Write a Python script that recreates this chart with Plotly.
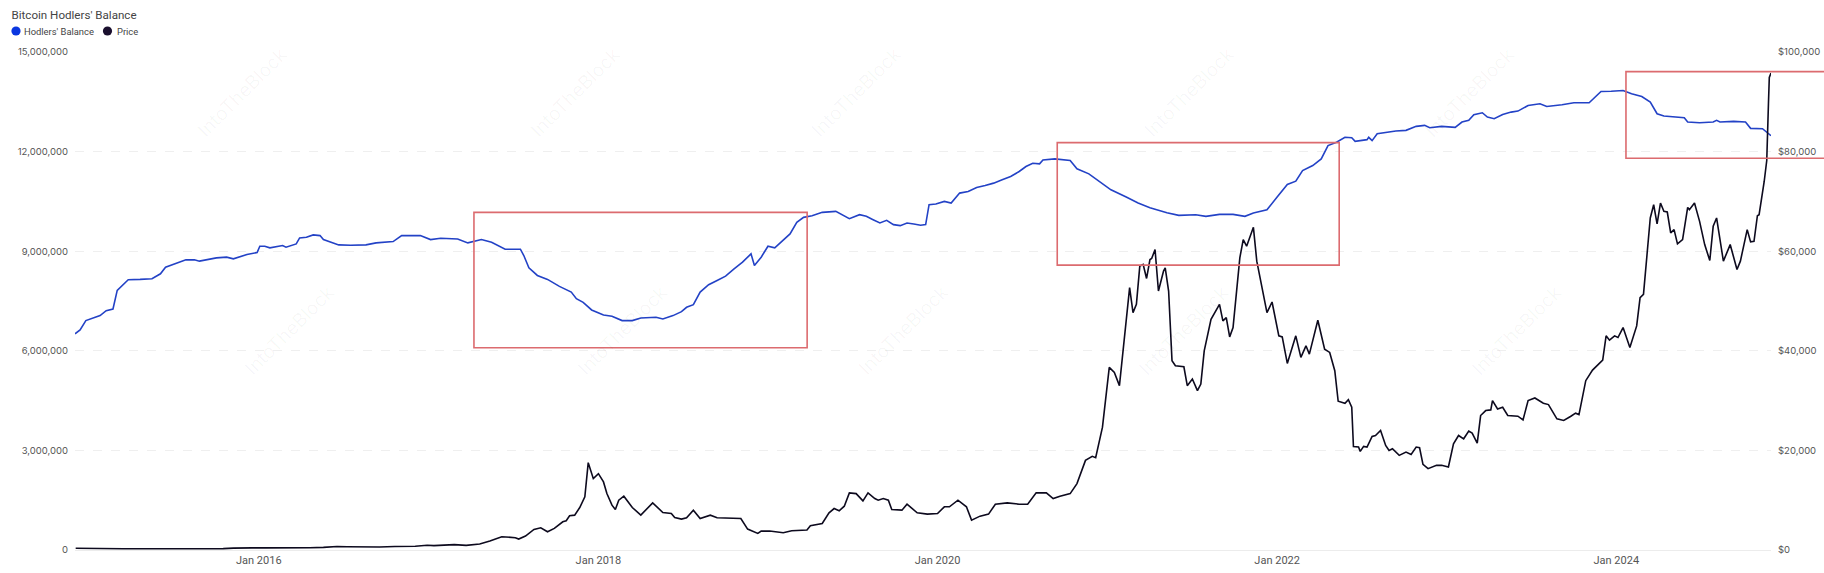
import pandas as pd
import plotly.graph_objects as go

# ---- Data (dates as decimal years) ----
balance_years = [
    2014.916, 2014.946, 2014.98, 2015.064, 2015.10, 2015.14, 2015.165, 2015.23, 2015.30, 2015.37,
    2015.42, 2015.45, 2015.57, 2015.62, 2015.65, 2015.75, 2015.81, 2015.85, 2015.93, 2015.99,
    2016.006, 2016.035, 2016.065, 2016.14, 2016.16, 2016.22, 2016.24, 2016.28, 2016.32, 2016.36,
    2016.38, 2016.43, 2016.47, 2016.54, 2016.63, 2016.69, 2016.79, 2016.84, 2016.89, 2016.95,
    2017.01, 2017.07, 2017.17, 2017.23, 2017.31, 2017.37, 2017.45, 2017.54, 2017.56, 2017.59,
    2017.64, 2017.70, 2017.77, 2017.84, 2017.87, 2017.91, 2017.96, 2018.03, 2018.08, 2018.14,
    2018.20, 2018.25, 2018.34, 2018.38, 2018.44, 2018.49, 2018.52, 2018.56, 2018.60, 2018.65,
    2018.70, 2018.75, 2018.80, 2018.85, 2018.90, 2018.92, 2018.96, 2019.00, 2019.04, 2019.08,
    2019.13, 2019.17, 2019.21, 2019.26, 2019.32, 2019.40, 2019.44, 2019.48, 2019.54, 2019.58,
    2019.62, 2019.66, 2019.70, 2019.74, 2019.78, 2019.82, 2019.86, 2019.90, 2019.93, 2019.95,
    2019.99, 2020.04, 2020.08, 2020.13, 2020.18, 2020.23, 2020.28, 2020.33, 2020.38, 2020.43,
    2020.48, 2020.52, 2020.56, 2020.60, 2020.62, 2020.69, 2020.78, 2020.82, 2020.89, 2020.97,
    2021.02, 2021.11, 2021.18, 2021.25, 2021.35, 2021.42, 2021.52, 2021.58, 2021.66, 2021.74,
    2021.81, 2021.86, 2021.94, 2022.00, 2022.06, 2022.11, 2022.15, 2022.21, 2022.26, 2022.30,
    2022.35, 2022.40, 2022.44, 2022.46, 2022.53, 2022.54, 2022.56, 2022.59, 2022.64, 2022.70,
    2022.76, 2022.79, 2022.82, 2022.87, 2022.90, 2022.97, 2023.05, 2023.09, 2023.13, 2023.16,
    2023.21, 2023.24, 2023.28, 2023.33, 2023.38, 2023.42, 2023.48, 2023.55, 2023.59, 2023.68,
    2023.75, 2023.84, 2023.91, 2023.97, 2024.04, 2024.09, 2024.15, 2024.20, 2024.24, 2024.28,
    2024.40, 2024.42, 2024.49, 2024.57, 2024.59, 2024.61, 2024.69, 2024.76, 2024.79, 2024.86,
    2024.91,
]
balance_values = [
    6.51, 6.63, 6.91, 7.06, 7.21, 7.26, 7.82, 8.14, 8.15, 8.17,
    8.32, 8.52, 8.74, 8.74, 8.70, 8.80, 8.82, 8.77, 8.90, 8.96,
    9.15, 9.15, 9.10, 9.17, 9.12, 9.22, 9.40, 9.42, 9.49, 9.47,
    9.35, 9.27, 9.19, 9.18, 9.19, 9.25, 9.29, 9.47, 9.47, 9.47,
    9.35, 9.39, 9.37, 9.25, 9.35, 9.27, 9.06, 9.06, 8.87, 8.50,
    8.27, 8.15, 7.94, 7.77, 7.57, 7.46, 7.23, 7.08, 7.04, 6.91,
    6.91, 6.99, 7.01, 6.96, 7.06, 7.18, 7.31, 7.39, 7.77, 7.99,
    8.12, 8.25, 8.47, 8.67, 8.92, 8.57, 8.82, 9.15, 9.10, 9.29,
    9.52, 9.87, 10.02, 10.07, 10.17, 10.20, 10.10, 9.98, 10.10, 10.05,
    9.95, 9.85, 9.93, 9.80, 9.77, 9.85, 9.82, 9.78, 9.80, 10.40,
    10.42, 10.50, 10.45, 10.75, 10.80, 10.92, 10.98, 11.05, 11.15, 11.25,
    11.40, 11.55, 11.65, 11.63, 11.75, 11.78, 11.73, 11.48, 11.33, 11.03,
    10.85, 10.63, 10.45, 10.31, 10.16, 10.08, 10.10, 10.05, 10.11, 10.11,
    10.05, 10.15, 10.25, 10.63, 11.01, 11.11, 11.43, 11.58, 11.78, 12.18,
    12.28, 12.43, 12.42, 12.31, 12.36, 12.43, 12.33, 12.54, 12.58, 12.62,
    12.64, 12.69, 12.76, 12.79, 12.72, 12.76, 12.73, 12.89, 12.94, 13.11,
    13.17, 13.04, 12.99, 13.12, 13.19, 13.22, 13.39, 13.44, 13.36, 13.41,
    13.47, 13.47, 13.81, 13.82, 13.84, 13.74, 13.66, 13.49, 13.14, 13.07,
    13.02, 12.89, 12.87, 12.89, 12.94, 12.89, 12.91, 12.89, 12.70, 12.69,
    12.48,
]  # millions of BTC

price_years = [
    2014.92, 2014.96, 2015.02, 2015.06, 2015.12, 2015.20, 2015.28, 2015.36, 2015.45, 2015.53,
    2015.62, 2015.70, 2015.79, 2015.85, 2015.90, 2015.96, 2016.04, 2016.12, 2016.20, 2016.30,
    2016.38, 2016.46, 2016.52, 2016.60, 2016.71, 2016.80, 2016.88, 2016.92, 2016.99, 2017.03,
    2017.15, 2017.22, 2017.30, 2017.36, 2017.43, 2017.51, 2017.53, 2017.57, 2017.62, 2017.66,
    2017.70, 2017.74, 2017.79, 2017.81, 2017.83, 2017.86, 2017.89, 2017.92, 2017.94, 2017.97,
    2018.00, 2018.03, 2018.05, 2018.08, 2018.10, 2018.12, 2018.15, 2018.20, 2018.25, 2018.32,
    2018.38, 2018.43, 2018.45, 2018.49, 2018.52, 2018.56, 2018.60, 2018.66, 2018.70, 2018.84,
    2018.88, 2018.94, 2018.96, 2019.01, 2019.09, 2019.14, 2019.23, 2019.25, 2019.32, 2019.36,
    2019.39, 2019.42, 2019.45, 2019.48, 2019.52, 2019.56, 2019.59, 2019.63, 2019.65, 2019.68,
    2019.71, 2019.73, 2019.79, 2019.82, 2019.88, 2019.94, 2020.00, 2020.04, 2020.07, 2020.12,
    2020.17, 2020.20, 2020.25, 2020.30, 2020.34, 2020.41, 2020.48, 2020.53, 2020.58, 2020.64,
    2020.68, 2020.72, 2020.78, 2020.82, 2020.87, 2020.91, 2020.93, 2020.97, 2021.01, 2021.04,
    2021.07, 2021.09, 2021.13, 2021.15, 2021.17, 2021.19, 2021.21, 2021.23, 2021.25, 2021.26,
    2021.28, 2021.30, 2021.33, 2021.34, 2021.36, 2021.38, 2021.40, 2021.45, 2021.47, 2021.50,
    2021.53, 2021.55, 2021.57, 2021.61, 2021.66, 2021.68, 2021.70, 2021.72, 2021.74, 2021.78,
    2021.80, 2021.82, 2021.86, 2021.88, 2021.91, 2021.94, 2021.97, 2022.01, 2022.03, 2022.06,
    2022.11, 2022.14, 2022.17, 2022.19, 2022.24, 2022.28, 2022.31, 2022.34, 2022.36, 2022.40,
    2022.42, 2022.44, 2022.45, 2022.48, 2022.49, 2022.51, 2022.53, 2022.56, 2022.58, 2022.61,
    2022.64, 2022.66, 2022.68, 2022.72, 2022.76, 2022.79, 2022.82, 2022.84, 2022.86, 2022.89,
    2022.94, 2022.97, 2023.01, 2023.04, 2023.07, 2023.10, 2023.13, 2023.15, 2023.18, 2023.20,
    2023.23, 2023.26, 2023.27, 2023.30, 2023.33, 2023.36, 2023.42, 2023.45, 2023.48, 2023.52,
    2023.57, 2023.60, 2023.65, 2023.69, 2023.73, 2023.76, 2023.78, 2023.82, 2023.86, 2023.92,
    2023.94, 2023.96, 2023.99, 2024.01, 2024.04, 2024.08, 2024.12, 2024.14, 2024.16, 2024.20,
    2024.22, 2024.24, 2024.26, 2024.28, 2024.30, 2024.32, 2024.34, 2024.36, 2024.39, 2024.42,
    2024.43, 2024.46, 2024.49, 2024.52, 2024.55, 2024.57, 2024.59, 2024.63, 2024.67, 2024.71,
    2024.73, 2024.77, 2024.79, 2024.81, 2024.83, 2024.84, 2024.87, 2024.885, 2024.895, 2024.90,
    2024.91,
]
price_values = [
    360, 330, 270, 220, 240, 260, 240, 235, 240, 285,
    230, 235, 280, 380, 340, 430, 420, 400, 415, 440,
    530, 700, 660, 580, 600, 700, 740, 760, 950, 870,
    1070, 930, 1200, 1800, 2670, 2470, 2200, 2800, 4130, 4470,
    3670, 4330, 5670, 5870, 6870, 7000, 8530, 10670, 17530, 14330,
    15330, 13670, 11330, 9000, 8130, 10000, 10800, 8530, 7000, 9470,
    7530, 7330, 6530, 6200, 6470, 8000, 6330, 7000, 6470, 6330,
    4200, 3330, 3800, 3800, 3470, 3870, 4000, 4870, 5330, 7470,
    8330, 7870, 8800, 11470, 11330, 9870, 11470, 10330, 10000, 10330,
    10000, 8130, 8000, 9200, 7470, 7200, 7330, 8670, 8670, 10000,
    8670, 6000, 6800, 7200, 9200, 9470, 9200, 9200, 11470, 11470,
    10330, 10800, 11330, 13330, 18000, 18800, 18530, 24670, 36670, 35670,
    33000, 40000, 52670, 47670, 49330, 57000, 57330, 54530, 58330, 58530,
    60330, 52000, 56000, 56670, 52000, 38000, 37000, 36800, 33000, 34330,
    32000, 33330, 40000, 46330, 49330, 46000, 46670, 42800, 44670, 58670,
    62330, 61000, 64800, 58000, 52670, 47670, 49800, 43000, 42800, 37470,
    43000, 38670, 41000, 39330, 46130, 40330, 39670, 36000, 29870, 29470,
    30200, 28670, 20800, 20670, 19800, 20800, 20670, 22800, 23000, 24000,
    21000, 20000, 20330, 19000, 19670, 19200, 20670, 20530, 17200, 16330,
    17000, 17000, 16670, 21330, 23000, 22330, 23870, 23470, 21470, 27000,
    28000, 28130, 30000, 28330, 28670, 27000, 26870, 26130, 30000, 30530,
    29470, 29200, 26330, 26000, 26800, 27470, 27200, 34000, 36130, 38130,
    43000, 42130, 43000, 42670, 44670, 40670, 45000, 50670, 51330, 66670,
    69330, 65470, 69670, 68000, 67870, 63670, 64330, 61470, 62330, 68800,
    68330, 69670, 66000, 61330, 58130, 65000, 66670, 58000, 61330, 56330,
    58000, 64330, 61870, 62000, 67130, 67330, 74000, 78200, 89600, 94900,
    95800,
]

# Highlight boxes: (start year, end year, low balance, high balance in millions)
box_starts = [2017.266, 2020.704, 2024.057]
box_ends = [2019.231, 2022.366, None]  # None: box runs off the right edge
box_lows = [6.09, 8.58, 11.80]
box_highs = [10.17, 12.27, 14.41]

x_tick_years = [2016, 2018, 2020, 2022, 2024]
left_ticks = [0, 3, 6, 9, 12, 15]
right_ticks = [0, 20000, 40000, 60000, 80000, 100000]

series_names = ["Hodlers' Balance", "Price"]
series_dot_colors = ["#0a36e0", "#1a0f2e"]

MILLION = 1_000_000


def to_date(y):
    yi = int(y)
    a = pd.Timestamp(yi, 1, 1)
    b = pd.Timestamp(yi + 1, 1, 1)
    return a + (b - a) * (y - yi)


bal_x = [to_date(v) for v in balance_years]
bal_y = [v * MILLION for v in balance_values]
pr_x = [to_date(v) for v in price_years]

x_start = to_date(balance_years[0])
x_end = to_date(balance_years[-1])

W, H = 1824, 573
ML, MR, MT, MB = 75, 53, 52, 23

BLUE = "#2342c6"
BLACK = "#0d0a1e"
RED = "#dc6b6f"
GRAY_TXT = "#555555"
FONT = "Inter, Roboto, sans-serif"
FONT_HEAD = "Roboto, Inter, sans-serif"

fig = go.Figure()
fig.add_trace(go.Scatter(x=bal_x, y=bal_y, mode="lines", name=series_names[0],
                         line=dict(color=BLUE, width=1.6), showlegend=False, yaxis="y"))
fig.add_trace(go.Scatter(x=pr_x, y=price_values, mode="lines", name=series_names[1],
                         line=dict(color=BLACK, width=1.6), showlegend=False, yaxis="y2"))

span = (x_end - x_start)
for s, e, lo, hi in zip(box_starts, box_ends, box_lows, box_highs):
    if e is None:
        fig.add_shape(type="rect", xref="paper", yref="paper",
                      x0=(to_date(s) - x_start) / span, x1=1.2,
                      y0=lo / 15, y1=hi / 15,
                      line=dict(color=RED, width=1.6), fillcolor="rgba(0,0,0,0)")
    else:
        fig.add_shape(type="rect", xref="x", yref="y",
                      x0=to_date(s), x1=to_date(e), y0=lo * MILLION, y1=hi * MILLION,
                      line=dict(color=RED, width=1.6), fillcolor="rgba(0,0,0,0)")

# Legend drawn as dots + labels (pixel offsets from the plot's top-left corner)
legend_dot_px = [16, 107.5]
legend_text_px = [23, 116]
legend_y_px = 31
for name, col, dx, tx in zip(series_names, series_dot_colors, legend_dot_px, legend_text_px):
    fig.add_shape(type="circle", xref="paper", yref="paper",
                  xsizemode="pixel", ysizemode="pixel", xanchor=0, yanchor=1,
                  x0=dx - ML - 4.6, x1=dx - ML + 4.6,
                  y0=(MT - legend_y_px) - 4.6, y1=(MT - legend_y_px) + 4.6,
                  fillcolor=col, line=dict(width=0))
    fig.add_annotation(xref="paper", yref="paper", x=0, y=1,
                       xshift=tx - ML, yshift=MT - legend_y_px,
                       xanchor="left", yanchor="middle", showarrow=False,
                       text=name, borderpad=0,
                       font=dict(family=FONT_HEAD, size=9.4, color="#444444"))

# faint watermarks
wm_x = [190, 523, 856, 1189, 1522, 237, 570, 903, 1236, 1569]
wm_y = [40, 40, 40, 40, 40, 330, 330, 330, 330, 330]
for wx, wy in zip(wm_x, wm_y):
    fig.add_annotation(xref="paper", yref="paper", x=(wx - ML) / (W - ML - MR),
                       y=1 - (wy - MT) / (H - MT - MB), showarrow=False,
                       text="IntoTheBlock", textangle=-45,
                       font=dict(family=FONT, size=19, color="rgba(0,0,0,0.035)"))

fig.update_layout(
    width=W, height=H,
    margin=dict(l=ML, r=MR, t=MT, b=MB, autoexpand=False),
    paper_bgcolor="white", plot_bgcolor="white",
    font=dict(family=FONT, size=9.5, color=GRAY_TXT),
    title=dict(text="Bitcoin Hodlers' Balance", xref="container", yref="container",
               x=11.5 / W, y=1 - 14.5 / H, xanchor="left", yanchor="middle",
               font=dict(family=FONT_HEAD, size=11.6, color="#444444")),
    showlegend=False,
    hovermode=False,
    xaxis=dict(type="date", range=[x_start, x_end],
               tickvals=[pd.Timestamp(y, 1, 1) for y in x_tick_years],
               ticktext=[f"Jan {y}" for y in x_tick_years],
               showgrid=False, zeroline=False, showline=True, linecolor="#ececec",
               ticks="", tickfont=dict(family="Liberation Sans Narrow, Roboto, sans-serif",
                                       size=11, color=GRAY_TXT),
               automargin=False),
    yaxis=dict(range=[0, 15 * MILLION], tickvals=[t * MILLION for t in left_ticks],
               ticktext=[f"{t * MILLION:,}" for t in left_ticks],
               showgrid=True, gridcolor="#efefef", griddash="dash", zeroline=False,
               ticks="", ticklabelstandoff=6, automargin=False,
               tickfont=dict(family=FONT, size=9.5, color=GRAY_TXT)),
    yaxis2=dict(range=[0, 100000], overlaying="y", side="right",
                tickvals=right_ticks, ticktext=[f"${t:,}" for t in right_ticks],
                showgrid=False, zeroline=False, ticks="", ticklabelstandoff=6,
                automargin=False, tickfont=dict(family=FONT, size=9.5, color=GRAY_TXT)),
)

fig.write_html("out.html",
               config={"displayModeBar": False, "staticPlot": True},
               post_script="document.body.style.margin='0px';document.body.style.overflow='hidden';")
